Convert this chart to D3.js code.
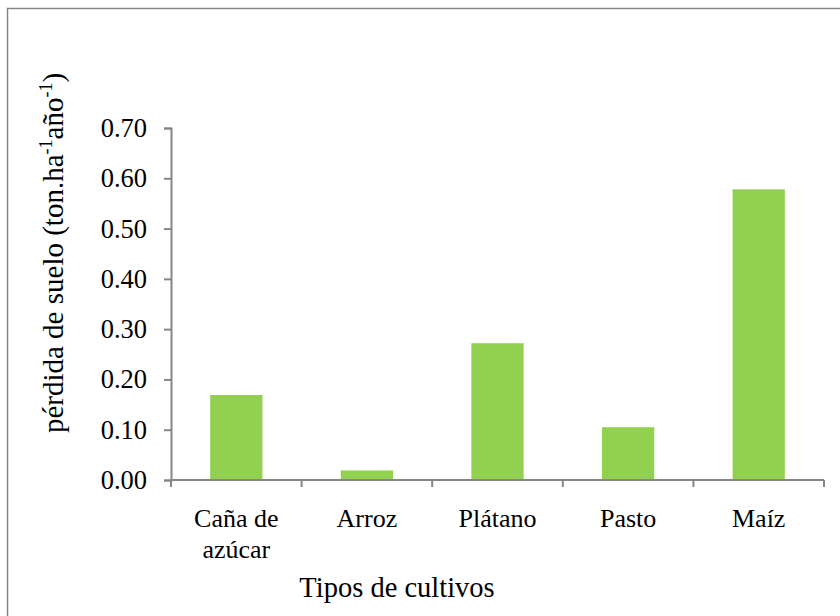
<!DOCTYPE html>
<html>
<head>
<meta charset="utf-8">
<script src="https://cdn.jsdelivr.net/npm/d3@7"></script>
<style>
  body { margin: 0; background: #fff; }
  svg text { font-family: "Liberation Serif", "Times New Roman", Times, "DejaVu Serif", serif !important; fill: #000; }
</style>
</head>
<body>
<div id="chart"></div>
<script>
// data
var cultivos = ["Caña de azúcar", "Arroz", "Plátano", "Pasto", "Maíz"];
var perdida = [0.169, 0.019, 0.272, 0.105, 0.578];
var yTicks = [0, 0.1, 0.2, 0.3, 0.4, 0.5, 0.6, 0.7];

var W = 840, H = 616;
var margin = {top: 128, right: 16, bottom: 136, left: 171},
    width = W - margin.left - margin.right,
    height = H - margin.top - margin.bottom;

var svg = d3.select("#chart").append("svg")
  .attr("width", W)
  .attr("height", H);

// outer chart border
svg.append("rect")
  .attr("x", 7.5).attr("y", 8.5)
  .attr("width", W).attr("height", H)
  .attr("fill", "none")
  .attr("stroke", "#868686")
  .attr("stroke-width", 1.5);

var g = svg.append("g")
  .attr("transform", "translate(" + margin.left + "," + margin.top + ")");

var x = d3.scaleBand()
  .domain(cultivos)
  .range([0, 653])
  .padding(0);

var y = d3.scaleLinear()
  .domain([0, 0.7])
  .range([height, 0]);

// bars
var barW = x.bandwidth() * 0.4;
g.selectAll("rect.bar")
  .data(perdida)
  .enter()
  .append("rect")
    .attr("class", "bar")
    .attr("x", function(d, i) { return x(cultivos[i]) + (x.bandwidth() - barW) / 2; })
    .attr("y", function(d) { return y(d); })
    .attr("width", barW)
    .attr("height", function(d) { return height - y(d); })
    .attr("fill", "#92d050");

// y axis
var yAxis = g.append("g")
  .call(d3.axisLeft(y).tickValues(yTicks).tickFormat(d3.format(".2f")).tickSize(7).tickPadding(17));
yAxis.selectAll("text").style("font-size", "26.5px");
yAxis.select(".domain").attr("stroke", "#868686").attr("stroke-width", 2);
yAxis.selectAll(".tick line").attr("stroke", "#868686").attr("stroke-width", 2);

// x axis with ticks at band edges
var xAxis = g.append("g")
  .attr("transform", "translate(0," + height + ")");
xAxis.append("line")
  .attr("x1", 0).attr("x2", 653)
  .attr("stroke", "#868686").attr("stroke-width", 2);
xAxis.selectAll("line.tk")
  .data(cultivos.concat(["end"]))
  .enter()
  .append("line")
    .attr("class", "tk")
    .attr("x1", function(d, i) { return i * x.step(); })
    .attr("x2", function(d, i) { return i * x.step(); })
    .attr("y1", 0).attr("y2", 7)
    .attr("stroke", "#868686").attr("stroke-width", 2);

// category labels (Caña de azúcar wraps)
var labelLines = {"Caña de azúcar": ["Caña de", "azúcar"]};
cultivos.forEach(function(c) {
  var lines = labelLines[c] || [c];
  var t = xAxis.append("text")
    .attr("text-anchor", "middle")
    .attr("x", x(c) + x.bandwidth() / 2)
    .attr("y", 47)
    .style("font-size", "26px");
  lines.forEach(function(l, k) {
    t.append("tspan")
      .attr("x", x(c) + x.bandwidth() / 2)
      .attr("dy", k === 0 ? 0 : 31)
      .text(l);
  });
});

// axis titles
svg.append("text")
  .attr("text-anchor", "middle")
  .attr("x", 397)
  .attr("y", 597)
  .style("font-size", "28.5px")
  .text("Tipos de cultivos");

var yt = svg.append("text")
  .attr("text-anchor", "middle")
  .attr("transform", "translate(63,253) rotate(-90)")
  .style("font-size", "29px");
yt.append("tspan").text("pérdida de suelo (ton.ha");
yt.append("tspan").attr("dy", -11).style("font-size", "18px").text("-1");
yt.append("tspan").attr("dy", 11).text("año");
yt.append("tspan").attr("dy", -11).style("font-size", "18px").text("-1");
yt.append("tspan").attr("dy", 11).text(")");
</script>
</body>
</html>
